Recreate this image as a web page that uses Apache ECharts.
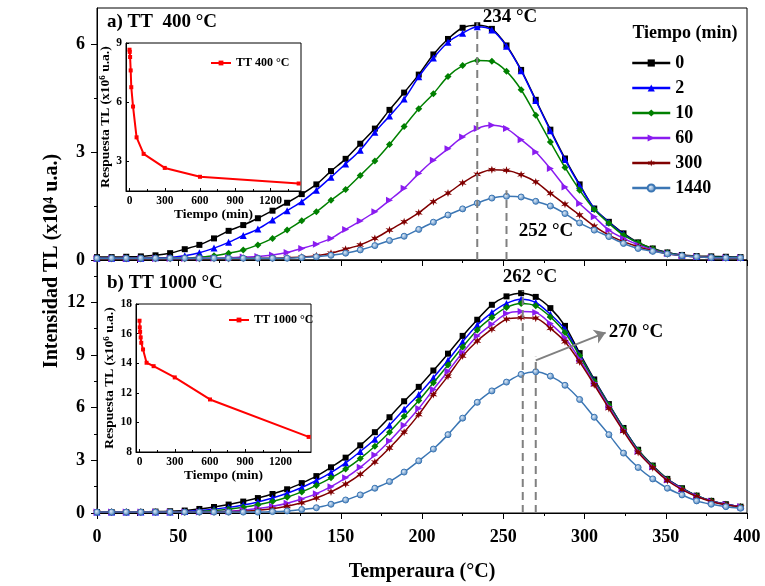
<!DOCTYPE html>
<html><head><meta charset="utf-8">
<script src="https://cdn.jsdelivr.net/npm/echarts@6/dist/echarts.min.js"></script>
<style>html,body{margin:0;padding:0;background:#fff}#c{width:765px;height:586px}</style>
</head><body><div id="c"></div>
<script>
// ---------- data ----------
const temperatures = [0,9,18,27,36,45,54,63,72,81,90,99,108,117,126,135,144,153,162,171,180,189,198,207,216,225,234,243,252,261,270,279,288,297,306,315,324,333,342,351,360,369,378,387,396];
const seriesNames = ['0','2','10','60','300','1440'];

// panel a) TT 400 °C  (x10^4 u.a.)
const a_0    = [0.08,0.08,0.09,0.10,0.13,0.19,0.30,0.42,0.60,0.81,0.97,1.16,1.37,1.59,1.83,2.10,2.47,2.81,3.23,3.65,4.17,4.65,5.15,5.71,6.14,6.45,6.52,6.42,5.96,5.28,4.45,3.62,2.82,2.10,1.43,1.06,0.74,0.49,0.32,0.21,0.14,0.11,0.10,0.09,0.08];
const a_2    = [0.05,0.05,0.05,0.05,0.06,0.07,0.12,0.20,0.33,0.49,0.68,0.86,1.11,1.37,1.62,1.94,2.30,2.67,3.05,3.55,4.00,4.47,5.09,5.61,6.05,6.30,6.48,6.39,5.94,5.26,4.43,3.59,2.79,2.07,1.43,1.05,0.72,0.47,0.30,0.20,0.13,0.10,0.08,0.07,0.07];
const a_10   = [0.04,0.04,0.04,0.04,0.04,0.05,0.05,0.08,0.12,0.19,0.28,0.42,0.60,0.83,1.09,1.34,1.66,1.96,2.35,2.75,3.21,3.71,4.20,4.62,5.10,5.40,5.54,5.52,5.24,4.73,4.02,3.28,2.57,1.94,1.40,1.02,0.69,0.48,0.31,0.20,0.13,0.10,0.08,0.07,0.07];
const a_60   = [0.04,0.04,0.04,0.04,0.04,0.04,0.04,0.05,0.05,0.06,0.08,0.10,0.14,0.21,0.32,0.44,0.60,0.85,1.08,1.34,1.66,1.99,2.40,2.77,3.09,3.42,3.65,3.74,3.65,3.34,3.00,2.54,2.03,1.57,1.20,0.83,0.60,0.42,0.28,0.18,0.12,0.09,0.07,0.06,0.06];
const a_300  = [0.04,0.04,0.04,0.04,0.04,0.04,0.04,0.04,0.04,0.04,0.05,0.05,0.05,0.06,0.08,0.12,0.19,0.30,0.42,0.60,0.83,1.06,1.31,1.62,1.86,2.14,2.38,2.51,2.49,2.37,2.17,1.85,1.55,1.25,0.94,0.69,0.51,0.37,0.26,0.17,0.12,0.09,0.07,0.06,0.06];
const a_1440 = [0.05,0.05,0.05,0.05,0.05,0.05,0.05,0.05,0.05,0.05,0.05,0.05,0.05,0.05,0.07,0.09,0.13,0.19,0.28,0.40,0.54,0.66,0.85,1.05,1.25,1.42,1.58,1.72,1.77,1.75,1.63,1.50,1.29,1.03,0.83,0.65,0.46,0.32,0.24,0.17,0.12,0.09,0.07,0.06,0.06];

// panel b) TT 1000 °C (x10^4 u.a.)
const b_0    = [0.05,0.05,0.05,0.06,0.08,0.10,0.14,0.23,0.34,0.48,0.65,0.85,1.08,1.35,1.70,2.10,2.60,3.15,3.85,4.60,5.45,6.36,7.18,8.11,9.07,10.08,11.00,11.85,12.33,12.51,12.30,11.66,10.65,9.10,7.60,6.20,4.84,3.60,2.70,1.94,1.41,0.99,0.69,0.50,0.36];
const b_2    = [0.05,0.05,0.05,0.05,0.05,0.06,0.09,0.14,0.22,0.32,0.46,0.63,0.85,1.12,1.45,1.85,2.30,2.85,3.50,4.20,5.00,5.90,6.75,7.70,8.69,9.75,10.70,11.41,11.93,12.17,11.98,11.31,10.46,9.00,7.55,6.18,4.82,3.58,2.68,1.93,1.40,0.98,0.69,0.50,0.36];
const b_10   = [0.05,0.05,0.05,0.05,0.05,0.05,0.06,0.09,0.14,0.22,0.33,0.47,0.66,0.90,1.20,1.57,2.00,2.50,3.10,3.80,4.60,5.50,6.40,7.41,8.42,9.45,10.42,11.13,11.70,11.93,11.79,11.16,10.27,8.95,7.50,6.15,4.80,3.57,2.67,1.92,1.39,0.98,0.68,0.49,0.36];
const b_60   = [0.05,0.05,0.05,0.05,0.05,0.05,0.05,0.06,0.07,0.10,0.16,0.25,0.38,0.56,0.80,1.10,1.50,2.00,2.60,3.30,4.10,5.00,5.95,7.03,8.07,9.13,10.07,10.74,11.35,11.47,11.41,10.78,9.98,8.75,7.40,6.05,4.72,3.50,2.62,1.88,1.36,0.96,0.67,0.48,0.35];
const b_300  = [0.05,0.05,0.05,0.05,0.05,0.05,0.05,0.05,0.06,0.07,0.10,0.15,0.24,0.38,0.58,0.85,1.20,1.65,2.20,2.90,3.70,4.60,5.60,6.74,7.79,8.93,9.79,10.46,11.03,11.12,11.09,10.51,9.75,8.60,7.30,5.95,4.65,3.45,2.58,1.85,1.33,0.94,0.66,0.47,0.34];
const b_1440 = [0.05,0.05,0.05,0.05,0.05,0.05,0.05,0.05,0.05,0.05,0.05,0.05,0.08,0.12,0.20,0.30,0.50,0.74,1.03,1.41,1.79,2.33,2.97,3.64,4.46,5.40,6.30,6.95,7.45,7.89,8.04,7.79,7.27,6.46,5.45,4.46,3.41,2.59,1.94,1.41,1.03,0.69,0.50,0.36,0.27];

// insets: TL response vs time (x10^6 u.a.)
const insetTimes = [0,2,5,10,15,30,60,120,300,600,1440];
const insetA = [8.66,8.55,8.29,7.61,6.76,5.78,4.22,3.38,2.67,2.22,1.88];
const insetB = [16.87,16.42,16.12,15.74,15.38,14.93,14.03,13.80,13.04,11.55,9.02];

// annotations (temperature, top value)
const peakLinesA = [[234, 6.6], [252, 1.94]];
const peakLinesB = [[262, 12.65], [270, 8.9]];
const arrowB = [[270, 8.69], [313, 10.27]];

// tick values
const xTicks = [0,50,100,150,200,250,300,350,400];
const yTicksA = [0,3,6];
const yMinorA = [1.5,4.5];
const yTicksB = [0,3,6,9,12];
const yMinorB = [1.5,4.5,7.5,10.5,13.5];
const insetXTicks = [0,300,600,900,1200];
const insetXMinor = [150,450,750,1050,1350];
const insetAYTicks = [3,6,9];
const insetBYTicks = [8,10,12,14,16,18];

// ---------- styles ----------
const FONT = '"Liberation Serif","Times New Roman",serif';
const colors = ['#000000','#0000ff','#008000','#8a1cf0','#800000','#3b76b4'];
const star = 'path://M0,-10 L2,-3.46 L8.66,-5 L4,0 L8.66,5 L2,3.46 L0,10 L-2,3.46 L-8.66,5 L-4,0 L-8.66,-5 L-2,-3.46 Z';
const symbols = ['rect','triangle','diamond','triangle',star,'circle'];
const symbolRot = [0,0,0,-90,0,0];
const symbolSizes = [6,7,7,7,8,6];
const plain = v => String(v);

const chart = echarts.init(document.getElementById('c'), null, {renderer:'canvas'});

function mainSeries(dataArrays, xi, yi) {
  return dataArrays.map((vals, k) => ({
    name: seriesNames[k], type:'line', xAxisIndex:xi, yAxisIndex:yi,
    data: temperatures.map((t,i)=>[t, vals[i]]),
    smooth: 0.3, showAllSymbol: true,
    symbol: symbols[k], symbolRotate: symbolRot[k], symbolSize: symbolSizes[k],
    lineStyle: {color: colors[k], width: 1.5},
    itemStyle: k === 5 ? {
      color: {type:'radial', x:0.4, y:0.4, r:0.65, colorStops:[{offset:0,color:'#dce9f7'},{offset:1,color:colors[k]}]},
      borderColor: colors[k], borderWidth: 1
    } : {color: colors[k]},
    z: 3 + k, animation: false
  }));
}
function peakSeries(lines, xi, yi) {
  return lines.map(([t, top]) => ({
    type:'line', xAxisIndex:xi, yAxisIndex:yi, data:[[t,0],[t,top]],
    symbol:'none', silent:true, z:20, animation:false,
    lineStyle:{color:'#808080', width:2, type:[8,5]}
  }));
}

const tickStyle = {color:'#000', width:1};
const mainLabel = {fontFamily:FONT, fontWeight:'bold', fontSize:18, color:'#000'};
function mainX(gi, show) {
  return {type:'value', gridIndex:gi, min:0, max:400, interval:50,
    axisLine:{show:true, onZero:false, lineStyle:tickStyle},
    axisTick:{show:true, inside:false, length:6, lineStyle:tickStyle},
    minorTick:{show:true, splitNumber:2, length:3, lineStyle:tickStyle},
    axisLabel:Object.assign({show:show, margin:15, customValues:xTicks, formatter:plain}, mainLabel),
    splitLine:{show:false}, minorSplitLine:{show:false},
    name: show ? 'Temperaura (°C)' : '', nameLocation:'middle', nameGap:49,
    nameTextStyle:{fontFamily:FONT, fontWeight:'bold', fontSize:20, color:'#000'}};
}
function mainY(gi, max, ticks) {
  return {type:'value', gridIndex:gi, min:0, max:max, position:'left',
    axisLine:{show:true, onZero:false, lineStyle:tickStyle},
    axisTick:{show:true, inside:false, length:6, lineStyle:tickStyle, customValues:ticks},
    axisLabel:Object.assign({show:true, margin:12, customValues:ticks, formatter:plain}, mainLabel),
    splitLine:{show:false}};
}
function minorY(gi, max, ticks) {
  return {type:'value', gridIndex:gi, min:0, max:max, position:'left',
    axisLine:{show:false},
    axisTick:{show:true, inside:false, length:3, lineStyle:tickStyle, customValues:ticks},
    axisLabel:{show:false}, splitLine:{show:false}};
}
const insetLabel = {fontFamily:FONT, fontWeight:'bold', fontSize:11.5, color:'#000'};
const insetName = {fontFamily:FONT, fontWeight:'bold', fontSize:13.5, color:'#000'};
const insetYName = {fontFamily:FONT, fontWeight:'bold', fontSize:13.5, color:'#000',
  rich:{s:{fontFamily:FONT, fontWeight:'bold', fontSize:9, color:'#000', verticalAlign:'top'}}};
function insetX(gi) {
  return {type:'value', gridIndex:gi, min:-30, max:1460,
    axisLine:{show:true, onZero:false, lineStyle:tickStyle},
    axisTick:{show:true, inside:true, length:3, lineStyle:tickStyle, customValues:insetXTicks},
    axisLabel:Object.assign({margin:4, customValues:insetXTicks, formatter:plain}, insetLabel),
    splitLine:{show:false},
    name:'Tiempo (min)', nameLocation:'middle', nameGap:17, nameTextStyle:insetName};
}
function insetXMinorAxis(gi) {
  return {type:'value', gridIndex:gi, min:-30, max:1460, position:'bottom',
    axisLine:{show:false},
    axisTick:{show:true, inside:true, length:2, lineStyle:tickStyle, customValues:insetXMinor},
    axisLabel:{show:false}, splitLine:{show:false}};
}
function insetY(gi, min, max, ticks, gap) {
  return {type:'value', gridIndex:gi, min:min, max:max, position:'left',
    axisLine:{show:true, onZero:false, lineStyle:tickStyle},
    axisTick:{show:true, inside:true, length:3, lineStyle:tickStyle, customValues:ticks},
    axisLabel:Object.assign({margin:4, customValues:ticks, formatter:plain}, insetLabel),
    splitLine:{show:false},
    name:'Respuesta TL (x10{s|6} u.a.)', nameLocation:'middle', nameGap:gap, nameTextStyle:insetYName};
}
function insetSeries(name, vals, xi, yi) {
  return {name:name, type:'line', xAxisIndex:xi, yAxisIndex:yi,
    data: insetTimes.map((t,i)=>[t, vals[i]]),
    symbol:'rect', symbolSize:4, showAllSymbol:true,
    lineStyle:{color:'#ff0000', width:2}, itemStyle:{color:'#ff0000'},
    z:10, animation:false};
}

const border = {show:true, borderColor:'#000', borderWidth:1, backgroundColor:'transparent'};
const option = {
  animation:false,
  backgroundColor:'#ffffff',
  grid:[
    Object.assign({left:97, top:8, width:650, height:252}, border),
    Object.assign({left:97, top:260, width:650, height:253}, border),
    Object.assign({left:126, top:43, width:175, height:148}, border),
    Object.assign({left:136, top:304, width:175, height:148}, border)
  ],
  xAxis:[ mainX(0,false), mainX(1,true), insetX(2), insetX(3), insetXMinorAxis(2), insetXMinorAxis(3) ],
  yAxis:[
    mainY(0, 7, yTicksA), mainY(1, 14.4, yTicksB),
    minorY(0, 7, yMinorA), minorY(1, 14.4, yMinorB),
    insetY(2, 1.5, 9, insetAYTicks, 12), insetY(3, 8, 18, insetBYTicks, 18)
  ],
  legend:[
    {data:seriesNames, orient:'vertical', left:626, top:49, itemWidth:38, itemHeight:9, itemGap:7,
     lineStyle:{width:2.5}, textStyle:{fontFamily:FONT, fontWeight:'bold', fontSize:18, color:'#000'}},
    {data:['TT 400 °C'], left:205, top:52, itemWidth:20, itemHeight:6,
     textStyle:{fontFamily:FONT, fontWeight:'bold', fontSize:12, color:'#000'}},
    {data:['TT 1000 °C'], left:223, top:309, itemWidth:20, itemHeight:6,
     textStyle:{fontFamily:FONT, fontWeight:'bold', fontSize:12, color:'#000'}}
  ],
  series:[].concat(
    mainSeries([a_0,a_2,a_10,a_60,a_300,a_1440], 0, 0),
    mainSeries([b_0,b_2,b_10,b_60,b_300,b_1440], 1, 1),
    peakSeries(peakLinesA, 0, 0),
    peakSeries(peakLinesB, 1, 1),
    [{type:'lines', coordinateSystem:'cartesian2d', xAxisIndex:1, yAxisIndex:1,
      data:[{coords:arrowB}], symbol:['none','arrow'], symbolSize:11, silent:true, z:21,
      lineStyle:{color:'#808080', width:2, opacity:1}, animation:false}],
    [insetSeries('TT 400 °C', insetA, 2, 4), insetSeries('TT 1000 °C', insetB, 3, 5)]
  ),
  graphic:[
    {type:'text', x:52, y:261, rotation:Math.PI/2,
     style:{text:'Intensidad TL (x10{s|4} u.a.)', font:'bold 20px '+FONT, fill:'#000', align:'center', verticalAlign:'middle',
       rich:{s:{font:'bold 14px '+FONT, fill:'#000', verticalAlign:'top'}}}},
    {type:'text', x:107, y:22, style:{text:'a) TT  400 °C', font:'bold 19px '+FONT, fill:'#000', align:'left', verticalAlign:'middle'}},
    {type:'text', x:107, y:283, style:{text:'b) TT 1000 °C', font:'bold 19px '+FONT, fill:'#000', align:'left', verticalAlign:'middle'}},
    {type:'text', x:685, y:33, style:{text:'Tiempo (min)', font:'bold 18px '+FONT, fill:'#000', align:'center', verticalAlign:'middle'}},
    {type:'text', x:510, y:17, style:{text:'234 °C', font:'bold 19px '+FONT, fill:'#000', align:'center', verticalAlign:'middle'}},
    {type:'text', x:546, y:231, style:{text:'252 °C', font:'bold 19px '+FONT, fill:'#000', align:'center', verticalAlign:'middle'}},
    {type:'text', x:530, y:277, style:{text:'262 °C', font:'bold 19px '+FONT, fill:'#000', align:'center', verticalAlign:'middle'}},
    {type:'text', x:636, y:332, style:{text:'270 °C', font:'bold 19px '+FONT, fill:'#000', align:'center', verticalAlign:'middle'}}
  ]
};
chart.setOption(option);
</script></body></html>
